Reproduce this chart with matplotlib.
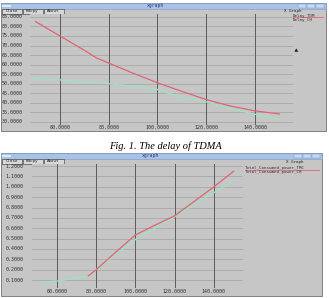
import matplotlib

matplotlib.use("Agg")
import matplotlib.pyplot as plt
from matplotlib.patches import Rectangle

W, H = 329, 298
BG, GRIDH, GRIDV = "#c6c6c6", "#a9a9a9", "#5a5a5a"
RED, GREEN = "#e06473", "#9ee3bf"
MONO = "DejaVu Sans Mono"

# fig 1: delay
delay_tdm_x = [50, 60, 70, 75, 80, 90, 100, 110, 120, 130, 140, 150]
delay_tdm_y = [82.5, 75.0, 67.5, 63.5, 60.8, 55.5, 50.5, 46.0, 41.7, 38.3, 35.8, 34.2]
delay_ch_x = [48, 60, 70, 80, 90, 100, 110, 120, 130, 140, 150]
delay_ch_y = [53.0, 52.0, 51.0, 50.0, 48.7, 47.0, 42.8, 40.5, 37.0, 34.0, 31.5]
delay_yticks = [85, 80, 75, 70, 65, 60, 55, 50, 45, 40, 35, 30]

# fig 2: consumed power
power_tdm_x = [76, 80, 90, 100, 110, 120, 130, 140, 150]
power_tdm_y = [0.14, 0.20, 0.37, 0.535, 0.63, 0.72, 0.86, 1.00, 1.15]
power_ch_x = [51, 60, 70, 76, 80, 90, 100, 110, 120, 130, 140, 150]
power_ch_y = [0.075, 0.09, 0.12, 0.14, 0.20, 0.345, 0.49, 0.60, 0.71, 0.83, 0.945, 1.055]
power_yticks = [1.2, 1.1, 1.0, 0.9, 0.8, 0.7, 0.6, 0.5, 0.4, 0.3, 0.2, 0.1]

xticks = [60, 80, 100, 120, 140]

fig = plt.figure(figsize=(W / 100, H / 100), dpi=100)
fig.patch.set_facecolor("white")
bg = fig.add_axes([0, 0, 1, 1])
bg.set_xlim(0, W)
bg.set_ylim(H, 0)
bg.axis("off")


def window(y0, y1, x1, title_x, legend, lx, ly, gx, gy):
    # window frame, title bar and buttons (pixel coords)
    bg.add_patch(Rectangle((0.5, y0), x1, y1 - y0, fc=BG, ec="#707070", lw=0.6))
    bg.add_patch(Rectangle((0.5, y0), x1, 5.5, fc="#a9c3e6", ec="#7f9cc8", lw=0.4))
    bg.text(title_x, y0 + 2.9, "xgraph", fontsize=3.4, family=MONO,
            color="#203a80", ha="center", va="center")
    bg.add_patch(Rectangle((1.5, y0 + 1.5), 9, 2.5, fc="#dfe8f5", ec="none"))
    for k in range(3):
        bg.add_patch(Rectangle((x1 - 27 + k * 9, y0 + 1), 8, 3.5,
                               fc="#c8d8ef", ec="#6f8fc0", lw=0.3))
    for k, name in enumerate(["Close", "Hdcpy", "About"]):
        bg.add_patch(Rectangle((1.5 + k * 21, y0 + 6), 20, 4.5, fc="#d8d8d8",
                               ec="#303030", lw=0.4))
        bg.text(11.5 + k * 21, y0 + 8.3, name, fontsize=3.0, family=MONO,
                ha="center", va="center", color="#202020")
    bg.text(gx, gy, "X Graph", fontsize=3.0, family=MONO,
            ha="left", va="center", color="#202020")
    for i, (label, c) in enumerate(legend):
        yy = ly + i * 4
        bg.text(lx, yy, label, fontsize=3.0, family=MONO, ha="left",
                va="center", color="#303030")
        if i == 0:
            bg.plot([lx, x1 - 2], [yy + 1.7, yy + 1.7], color=c, lw=0.6)


def plot_area(box, xlim, ylim, series, yticks, yfmt, label_x):
    x0, y0, x1, y1 = box
    ax = fig.add_axes([x0 / W, 1 - y1 / H, (x1 - x0) / W, (y1 - y0) / H])
    ax.set_facecolor(BG)
    ax.set_xlim(*xlim)
    ax.set_ylim(*ylim)
    for v in yticks:
        ax.axhline(v, color=GRIDH, lw=0.6, zorder=1)
    for v in xticks:
        ax.axvline(v, color=GRIDV, lw=0.7, zorder=1)
    for xs, ys, c in series:
        ax.plot(xs, ys, color=c, lw=0.9, zorder=3)
    ax.set_xticks([])
    ax.set_yticks([])
    for s in ax.spines.values():
        s.set_visible(False)
    for v in yticks:
        ax.text(label_x, v, yfmt.format(v), transform=ax.get_yaxis_transform(),
                fontsize=3.6, family=MONO, ha="left", va="center", color="#303030")
    for v in xticks:
        ax.text(v, -0.025, f"{v:.4f}", transform=ax.get_xaxis_transform(),
                fontsize=3.6, family=MONO, ha="center", va="center", color="#303030")
    return ax


# top window
window(3, 131, 325, 155, [("Delay_TDM", RED), ("Delay_CH", GREEN)], 293, 15.5,
       284, 11)
bg.text(297, 50, "\u25b6", fontsize=3.5, color="#202020", rotation=-30,
        ha="center", va="center")
plot_area((30, 14, 293, 125), (47.7, 155.6), (28.4, 86.5),
          [(delay_ch_x, delay_ch_y, GREEN), (delay_tdm_x, delay_tdm_y, RED)],
          delay_yticks, "{:.4f}", -0.108)

bg.text(165, 146, "Fig. 1. The delay of TDMA", fontsize=7.5,
        family="Liberation Serif", style="italic", ha="center", va="center")

# bottom window
window(153, 296, 321, 150,
       [("Total_Consumed_power_TMC", RED), ("Total_Consumed_power_CH", GREEN)],
       245, 168, 286, 162)
plot_area((32, 164, 243, 288), (47.3, 154.8), (0.023, 1.22),
          [(power_ch_x, power_ch_y, GREEN), (power_tdm_x, power_tdm_y, RED)],
          power_yticks, "{:.4f}", -0.125)

fig.savefig("out.png", dpi=100)
